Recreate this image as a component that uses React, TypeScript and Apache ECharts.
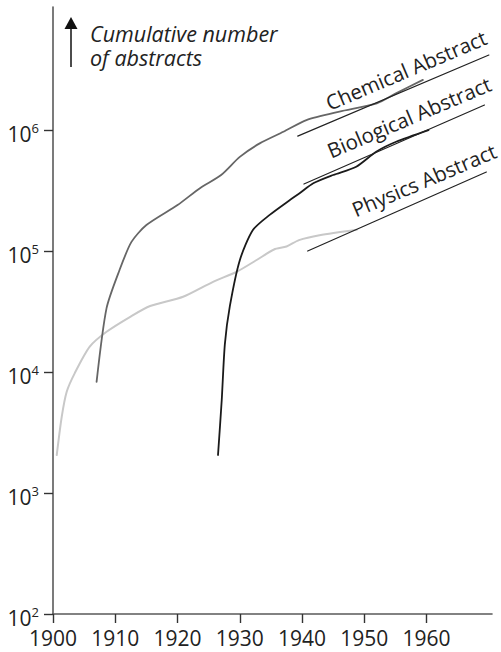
import React, { useEffect, useRef } from "react";
import * as echarts from "echarts";

// Chemical Abstracts (cumulative)
const chemYears = [1907.0, 1908.6, 1910.7, 1912.6, 1915.0, 1920.0, 1923.6, 1927.0, 1930.0, 1933.2, 1937.0, 1940.7, 1946.0, 1952.0, 1955.0, 1959.4];
const chemValues = [8300, 33700, 70000, 119000, 164000, 240000, 331000, 425000, 600000, 776000, 968000, 1210000, 1420000, 1660000, 2000000, 2600000];

// Biological Abstracts (cumulative)
const bioYears = [1926.5, 1927.1, 1927.6, 1928.4, 1930.0, 1932.1, 1934.8, 1938.0, 1939.6, 1941.8, 1945.0, 1948.7, 1951.9, 1955.1, 1960.3];
const bioValues = [2060, 5900, 17000, 35000, 84000, 149000, 199000, 263000, 300000, 363000, 425000, 498000, 662000, 800000, 1000000];

// Physics Abstracts (cumulative)
const physYears = [1900.6, 1901.4, 1902.2, 1903.5, 1905.9, 1908.6, 1912.4, 1915.6, 1920.9, 1925.7, 1929.5, 1932.7, 1935.5, 1937.5, 1939.5, 1942.8, 1948.8];
const physValues = [2060, 4260, 6870, 9800, 16200, 21500, 28600, 35100, 41900, 55700, 67400, 84300, 103000, 109000, 123000, 135000, 150000];

// Label underlines
const chemLineYears = [1939.3, 1970.0];
const chemLineValues = [891000, 4170000];
const bioLineYears = [1940.3, 1969.3];
const bioLineValues = [358000, 1610000];
const physLineYears = [1940.9, 1969.6];
const physLineValues = [100000, 450000];

// Axis ticks
const xTicks = [1900, 1910, 1920, 1930, 1940, 1950, 1960];
const yTicks = [100, 1000, 10000, 100000, 1000000];

const seriesLabels = ["Chemical Abstract", "Biological Abstract", "Physics Abstract"];
const titleLines = ["Cumulative number", "of abstracts"];

const FONT = "'Open Sans', 'Noto Sans', sans-serif";

const zip = (xs: number[], ys: number[]) => xs.map((x, i) => [x, ys[i]]);

export default function App() {
  const ref = useRef<HTMLDivElement>(null);
  useEffect(() => {
    document.body.style.margin = "0";
    if (!ref.current) return;
    const chart = echarts.init(ref.current, undefined, { renderer: "svg" });
    const lineSeries = (data: number[][], color: string, width: number, smooth: number | boolean) => ({
      type: "line",
      data,
      symbol: "none",
      smooth,
      lineStyle: { color, width, cap: "round", join: "round" },
      silent: true,
    });
    const rot = (23 * Math.PI) / 180;
    const labelStyle = { fontSize: 20.5, fontFamily: FONT, fill: "#222", align: "center", verticalAlign: "middle" };
    chart.setOption({
      animation: false,
      grid: { left: 53, right: 9, top: 7, bottom: 38 },
      xAxis: {
        type: "value",
        min: 1900,
        max: 1970.5,
        interval: 10,
        axisLine: { show: true, lineStyle: { color: "#5a5a5a", width: 1.6 } },
        axisTick: { show: true, length: 9, customValues: xTicks, lineStyle: { color: "#333", width: 1.4 } },
        axisLabel: {
          customValues: xTicks,
          margin: 14,
          fontSize: 21,
          lineHeight: 20,
          fontFamily: FONT,
          color: "#222",
          formatter: (v: number) => String(v),
        },
        splitLine: { show: false },
      },
      yAxis: {
        type: "log",
        logBase: 10,
        min: 100,
        max: 1.04e7,
        axisLine: { show: true, lineStyle: { color: "#5a5a5a", width: 1.6 } },
        axisTick: { show: true, length: 9, customValues: yTicks, lineStyle: { color: "#333", width: 1.4 } },
        axisLabel: {
          customValues: yTicks,
          margin: 14,
          padding: [8, 0, 0, 0],
          formatter: (v: number) => `{b|10}{s|${Math.round(Math.log10(v))}}`,
          rich: {
            b: { fontSize: 21, fontFamily: FONT, color: "#222", lineHeight: 25 },
            s: { fontSize: 13, fontFamily: FONT, color: "#222", lineHeight: 13, verticalAlign: "top" },
          },
        },
        splitLine: { show: false },
      },
      series: [
        lineSeries(zip(physYears, physValues), "#c8c8c8", 2, 0.25),
        lineSeries(zip(chemYears, chemValues), "#666666", 1.8, 0.25),
        lineSeries(zip(bioYears, bioValues), "#1a1a1a", 1.8, 0.25),
        lineSeries(zip(chemLineYears, chemLineValues), "#222", 1.2, false),
        lineSeries(zip(bioLineYears, bioLineValues), "#222", 1.2, false),
        lineSeries(zip(physLineYears, physLineValues), "#222", 1.2, false),
      ],
      graphic: [
        { type: "polygon", shape: { points: [[71, 17], [64.5, 29], [77.5, 29]] }, style: { fill: "#111" } },
        { type: "line", shape: { x1: 71, y1: 28, x2: 71, y2: 67 }, style: { stroke: "#111", lineWidth: 1.5 } },
        {
          type: "text", x: 90, y: 21,
          style: {
            text: titleLines.join("\n"), fontSize: 21.5, lineHeight: 24.5, fontStyle: "italic",
            fontFamily: FONT, fill: "#222", align: "left", verticalAlign: "top",
          },
        },
        { type: "text", x: 406, y: 70, rotation: rot, style: { ...labelStyle, text: seriesLabels[0] } },
        { type: "text", x: 409, y: 117, rotation: rot, style: { ...labelStyle, text: seriesLabels[1] } },
        { type: "text", x: 424, y: 180, rotation: rot, style: { ...labelStyle, text: seriesLabels[2] } },
      ],
    });
    return () => chart.dispose();
  }, []);
  return <div ref={ref} style={{ width: 501, height: 652 }} />;
}
